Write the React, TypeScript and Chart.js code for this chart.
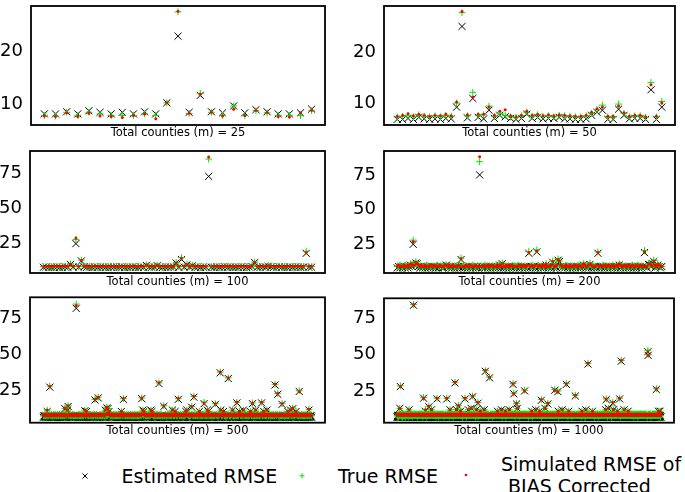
import React, { useEffect, useRef } from "react";
import { Chart, registerables } from "chart.js";

Chart.register(...registerables);

// ---------- DATA ----------
const yTicksSmall = [10, 20];
const yTicksLarge = [25, 50, 75];

const est25 = [8.2, 8.2, 8.6, 8.2, 8.8, 8.5, 8.2, 8.5, 8.2, 8.6, 8.2, 10.3, 22.9, 8.5, 11.7, 8.6, 8.4, 9.7, 8.4, 9.0, 8.6, 8.2, 8.2, 8.4, 9.1];
const true25 = [7.9, 7.8, 8.5, 7.9, 8.5, 8.2, 7.9, 7.9, 7.9, 8.2, 7.9, 10.3, 27.5, 8.3, 12.1, 8.5, 7.9, 9.7, 7.9, 8.8, 8.4, 7.9, 7.9, 7.9, 8.8];
const sim25 = [7.8, 7.7, 8.4, 7.7, 8.3, 7.8, 7.7, 7.5, 7.9, 8.2, 7.3, 10.3, 27.6, 8.3, 11.9, 8.5, 7.8, 9.1, 7.9, 8.9, 8.5, 7.7, 7.6, 8.4, 8.9];

const est50 = [6.8, 6.8, 7.0, 6.8, 7.2, 6.9, 6.8, 6.9, 6.8, 7.0, 6.9, 9.2, 25.0, 7.1, 10.9, 7.2, 6.9, 8.6, 7.0, 7.6, 7.3, 7.0, 6.8, 7.0, 7.8, 7.0, 7.2, 6.9, 7.0, 7.0, 7.2, 6.9, 6.9, 6.8, 6.8, 6.9, 7.6, 8.2, 8.6, 6.8, 6.8, 8.8, 7.6, 6.9, 7.0, 7.0, 6.8, 12.6, 6.8, 9.2];
const true50 = [7.3, 7.4, 7.6, 7.3, 7.7, 7.4, 7.3, 7.5, 7.3, 7.6, 7.4, 10.0, 27.7, 7.5, 12.1, 7.6, 7.7, 9.4, 7.4, 8.0, 7.6, 7.3, 7.2, 7.5, 8.2, 7.4, 7.7, 7.4, 7.5, 7.3, 7.6, 7.5, 7.4, 7.3, 7.3, 7.5, 8.0, 8.7, 9.6, 7.3, 7.2, 9.8, 8.0, 7.3, 7.5, 7.5, 7.2, 14.0, 7.3, 10.3];
const sim50 = [7.4, 7.6, 7.9, 7.5, 7.8, 7.6, 7.4, 7.6, 7.5, 7.8, 7.5, 10.2, 27.9, 7.7, 11.2, 7.8, 7.8, 9.2, 7.6, 8.4, 8.7, 7.5, 7.3, 7.6, 8.4, 7.6, 7.8, 7.5, 7.7, 7.5, 7.7, 7.6, 7.5, 7.4, 7.4, 7.6, 8.2, 8.9, 9.2, 7.4, 7.4, 9.4, 8.1, 7.4, 7.6, 7.6, 7.3, 13.6, 7.4, 10.0];

const est100 = [
  7.4, 7.6, 7.3, 7.5, 7.4, 7.6, 7.3, 7.5, 7.7, 7.4, 9.5, 7.6, 24.5, 7.5, 12.0, 7.8, 7.4, 7.6, 7.3, 7.5,
  7.4, 7.6, 7.5, 7.3, 7.6, 7.4, 7.5, 7.7, 7.4, 7.6, 7.3, 7.5, 7.4, 7.6, 7.5, 7.3, 7.6, 7.4, 8.8, 7.5,
  7.4, 7.6, 8.6, 7.5, 7.3, 7.6, 7.4, 7.5, 7.7, 10.5, 7.4, 13.0, 7.5, 9.2, 7.6, 8.5, 7.4, 7.6, 7.3, 7.5,
  7.4, 73.0, 7.5, 7.3, 7.6, 7.4, 7.5, 7.7, 7.4, 7.6, 7.3, 7.5, 7.4, 7.6, 7.5, 7.3, 7.6, 8.0, 10.8, 7.5,
  7.4, 7.6, 7.5, 8.2, 7.6, 7.4, 7.5, 7.7, 7.4, 7.6, 7.3, 7.5, 7.4, 7.6, 7.5, 7.3, 7.6, 17.5, 7.4, 7.5,
];
const true100 = [
  7.8, 8.0, 7.7, 7.9, 7.8, 8.0, 7.7, 7.9, 8.1, 7.8, 9.8, 8.0, 27.5, 7.9, 12.6, 8.2, 7.8, 8.0, 7.7, 7.9,
  7.8, 8.0, 7.9, 7.7, 8.0, 7.8, 7.9, 8.1, 7.8, 8.0, 7.7, 7.9, 7.8, 8.0, 7.9, 7.7, 8.0, 7.8, 9.2, 7.9,
  7.8, 8.0, 9.0, 7.9, 7.7, 8.0, 7.8, 7.9, 8.1, 10.8, 7.8, 14.5, 7.9, 9.6, 8.0, 8.9, 7.8, 8.0, 7.7, 7.9,
  7.8, 85.5, 7.9, 7.7, 8.0, 7.8, 7.9, 8.1, 7.8, 8.0, 7.7, 7.9, 7.8, 8.0, 7.9, 7.7, 8.0, 8.4, 11.2, 7.9,
  7.8, 8.0, 7.9, 8.6, 8.0, 7.8, 7.9, 8.1, 7.8, 8.0, 7.7, 7.9, 7.8, 8.0, 7.9, 7.7, 8.0, 19.0, 7.8, 7.9,
];
const sim100 = [
  8.0, 7.8, 8.1, 7.9, 8.2, 7.8, 8.0, 8.1, 7.9, 8.0, 9.6, 7.9, 28.5, 8.1, 12.3, 8.0, 8.2, 7.9, 8.0, 8.1,
  7.9, 8.0, 8.2, 7.8, 8.1, 8.0, 7.9, 8.2, 8.0, 7.8, 8.1, 8.0, 7.9, 8.2, 8.0, 7.8, 8.1, 7.9, 9.0, 8.0,
  8.2, 7.9, 8.8, 8.0, 8.1, 7.8, 8.0, 8.2, 7.9, 10.6, 8.0, 13.8, 8.1, 9.4, 7.9, 8.7, 8.0, 8.2, 7.8, 8.1,
  8.0, 87.0, 7.9, 8.1, 8.0, 7.8, 8.2, 8.0, 7.9, 8.1, 8.0, 7.8, 8.1, 7.9, 8.2, 8.0, 7.8, 8.3, 11.0, 8.0,
  8.1, 7.9, 8.0, 8.4, 8.1, 7.9, 8.0, 8.2, 7.8, 8.0, 8.1, 7.9, 8.0, 8.2, 7.9, 8.0, 8.1, 18.0, 7.9, 8.0,
];

// Dense panels: each character is one county's value (base-36 digit: 7 = 7, a = 10, b = 11 ...);
// larger values are listed as [index, estimated, true, simulated].
const est200Rows = [
  "89898 98989 a98a9 b9898 98989 89898 98998 89a98 98989 89898",
  "98989 89898 98a98 98989 89898 98a89 89898 98989 89898 98989",
  "89898 98989 89a98 98989 89898 98989 89898 98989 a9898 98989",
  "89898 98989 89898 98a89 89898 98989 89898 98989 a9b98 9a989",
];
const true200Rows = [
  "99a99 9a999 ba9a9 ba999 99a99 99999 a9999 9aa99 99999 99a99",
  "a9999 99a99 99a99 9a999 99999 9aa99 99999 99a99 9a999 99999",
  "99a99 9a999 99b99 99999 a9999 99a99 99999 9a999 ba999 99a99",
  "99999 a9999 99a99 99ba9 99999 99a99 9a999 99999 ba9b9 9b999",
];
const sim200Rows = [
  "9a999 a99a9 ba9a9 ba9a9 9a999 a99a9 99a99 9aa9a 99a99 9a999",
  "99a99 a999a 99b99 a99a9 9a999 a9a99 99a9a 9a999 99a99 a99a9",
  "9a99a 99a99 a9b99 9a999 a99a9 99a99 a999a 99a99 ba99a 9a999",
  "a99a9 9a99a 99a99 a9ba9 9a99a 99a99 a99a9 9a999 ba9ba 9ba99",
];
const outliers200 = [
  [12, 25, 28, 27], [14, 11.5, 12.5, 12], [48, 14, 15, 14.5], [62, 75, 84.5, 88], [79, 11, 11.5, 11],
  [99, 18.5, 19.8, 19], [105, 19.5, 21, 20], [117, 12, 13, 12.5], [121, 13.5, 14.5, 14], [122, 12.5, 13, 13],
  [145, 10.5, 11.5, 11], [151, 18.5, 19.5, 19], [186, 19, 20.5, 19.5], [189, 10.5, 11, 11], [193, 12.5, 13.5, 13],
];

const est500Rows = [
  "67676 76a67 67676 76767 67676 76767 67676 76767 c6767 b6767",
  "76767 67676 76767 67676 76767 67676 a7676 76767 67676 76767",
  "67676 76767 67676 b6767 c7a76 76767 67676 76767 67676 a6767",
  "76767 67676 76767 67676 76767 67676 76767 b6a76 76767 67676",
  "b7a76 76767 67676 76767 67676 76767 67676 76767 b6767 a7676",
  "67676 76767 67676 a7b76 76767 67676 76767 67676 a6767 76767",
  "67676 b6a67 67676 76767 67676 76767 b6767 a7676 67676 76767",
  "76b67 67676 76767 a7676 76b67 67676 76767 a7676 67676 b6767",
  "76767 67676 a7676 6b767 67676 76767 67676 76767 67676 76767",
  "67676 a6767 b7676 76767 a7676 67676 76767 67676 76767 67676",
];
const true500Rows = [
  "77787 87b77 78777 87778 77877 78777 87787 77877 c8787 b7787",
  "87778 77877 78777 87787 77877 78778 a7877 78787 77877 87778",
  "77877 87778 77877 b7787 c8a87 78777 87787 77877 87778 a7877",
  "78777 87787 77877 87778 77877 78787 87778 b7a87 78777 87787",
  "b8a87 78777 87787 77877 87778 77877 78787 87778 b7787 a8777",
  "77877 87778 77877 a8b87 78777 87787 77877 87778 a7877 78787",
  "77877 b7a78 77877 87778 77877 78787 b7787 a8777 77877 87778",
  "87b77 77877 87778 a8777 87b78 77877 87787 a8777 77877 b7787",
  "87778 77877 a8777 7b877 78777 87787 77877 87778 77877 78787",
  "77877 a7787 b8777 87778 a8777 78777 87787 77877 87778 77877",
];
const sim500Rows = [
  "78878 87b78 87878 78787 87878 78787 87878 78787 c8787 b8878",
  "87878 78787 87878 78787 87878 78787 a8787 87878 78787 87878",
  "78787 87878 78787 b8878 c8a87 87878 78787 87878 78787 a8878",
  "87878 78787 87878 78787 87878 78787 87878 b8a87 87878 78787",
  "b8a87 87878 78787 87878 78787 87878 78787 87878 b8787 a8878",
  "78787 87878 78787 a8b87 87878 78787 87878 78787 a8878 87878",
  "78787 b8a87 78787 87878 78787 87878 b8787 a8878 78787 87878",
  "87b78 78787 87878 a8787 87b87 78787 87878 a8787 78787 b8878",
  "87878 78787 a8787 8b878 78787 87878 78787 87878 78787 87878",
  "78787 a8787 b8878 87878 a8787 78787 87878 78787 87878 78787",
];
const outliers500 = [
  [12, 27, 27.8, 27.5], [46, 13.5, 14, 14], [61, 82, 85, 84], [77, 10.5, 11, 11], [96, 18, 18.5, 18.5],
  [102, 19.5, 20, 20], [118, 12.5, 13, 13], [149, 18.5, 19, 19], [183, 19, 19.5, 19.5], [215, 29.5, 30, 30],
  [224, 13.5, 14, 14], [251, 18.5, 19, 19], [276, 13, 13.5, 13.5], [280, 20, 20.5, 20.5], [299, 15.5, 16.5, 16],
  [320, 15, 15.5, 15.5], [329, 37, 37.5, 37.5], [344, 33, 33.5, 33.5], [360, 16, 16.5, 16.5], [389, 15.5, 16, 16],
  [406, 16, 16.5, 16.5], [431, 28.5, 29, 29], [436, 22, 22.5, 22.5], [444, 15, 15.5, 15.5], [464, 12, 12.5, 12.5],
  [476, 24, 24.5, 24], [494, 11, 11.5, 11.5],
];

const est1000Rows = [
  "78778 87787 d7787 78877 87787 78778 87877 78787 77887 c7877",
  "87787 78877 87778 78787 87787 78877 77878 87787 78778 87877",
  "78787 87b77 78877 87787 77878 87787 c8778 78787 87787 78877",
  "87787 78877 87778 78787 87787 78877 77878 87787 78778 87877",
  "c8787 87787 78877 87787 77878 c7787 87778 78787 b7787 78877",
  "87787 78778 87877 78787 c7887 87787 d8778 78787 87787 78877",
  "c7787 78877 87787 b7878 87787 78778 c7877 78787 87787 78877",
  "87787 78778 87877 78787 77887 87787 b8778 78787 87787 c8877",
  "78787 87787 b8877 87787 77878 c7787 87778 78787 87787 78877",
  "87787 d8778 87877 78787 77887 87787 78778 78787 87787 78877",
  "78787 87787 b8877 87787 77878 c7787 87778 78787 b7787 78877",
  "87787 78778 d7877 78787 77887 87787 78778 78787 87787 78877",
  "78787 87787 b8877 87787 77878 c7787 87778 78787 87787 78877",
  "b7787 78778 87877 78787 77887 87787 78778 78787 87787 78877",
  "b8787 87787 78877 c7787 77878 87787 87778 78787 b7787 78877",
  "87787 78778 87877 78787 77887 87787 78778 78787 c7787 78877",
  "d8787 87787 78877 87787 c7878 87787 87778 b8787 87787 78877",
  "87787 78778 c7877 78787 77887 b7787 78778 78787 87787 78877",
  "78787 87787 78877 87787 77878 87787 87778 78787 87787 78877",
  "87787 78778 87877 78787 77887 87787 78778 78787 b7787 7b877",
];
const true1000Rows = [
  "88789 78898 d8898 89788 78898 87889 98788 89898 88798 c8988",
  "98898 89788 98889 89898 98898 89788 88989 98898 89889 98788",
  "89898 98c88 89788 98898 88989 98898 c9889 89898 98898 89788",
  "98898 89788 98889 89898 98898 89788 88989 98898 89889 98788",
  "c9898 98898 89788 98898 88989 c8898 98889 89898 b8898 89788",
  "98898 89889 98788 89898 c8998 98898 d9889 89898 98898 89788",
  "c8898 89788 98898 b8989 98898 89889 c8988 89898 98898 89788",
  "98898 89889 98788 89898 88998 98898 b9889 89898 98898 c9788",
  "89898 98898 b9788 98898 88989 c8898 98889 89898 98898 89788",
  "98898 d9889 98788 89898 88998 98898 89889 89898 98898 89788",
  "89898 98898 b9788 98898 88989 c8898 98889 89898 b8898 89788",
  "98898 89889 d8988 89898 88998 98898 89889 89898 98898 89788",
  "89898 98898 b9788 98898 88989 c8898 98889 89898 98898 89788",
  "b8898 89889 98788 89898 88998 98898 89889 89898 98898 89788",
  "b9898 98898 89788 c8898 88989 98898 98889 89898 b8898 89788",
  "98898 89889 98788 89898 88998 98898 89889 89898 c8898 89788",
  "d9898 98898 89788 98898 c8989 98898 98889 b9898 98898 89788",
  "98898 89889 c8988 89898 88998 b8898 89889 89898 98898 89788",
  "89898 98898 89788 98898 88989 98898 98889 89898 98898 89788",
  "98898 89889 98788 89898 88998 98898 89889 89898 b8898 8b788",
];
const sim1000Rows = [
  "89898 98989 d9898 89898 98989 89898 98989 89898 98989 c9898",
  "98989 89898 98989 88989 98989 89898 98998 89898 98989 89898",
  "89898 98c89 89898 98989 89898 98989 c9898 98989 89898 98989",
  "98989 89898 98989 89898 98989 89898 98989 89898 98989 89898",
  "c9898 98989 89898 98989 89898 c8989 98989 89898 b9898 98989",
  "98989 89898 98989 89898 c8989 89898 d9898 98989 89898 98989",
  "c9898 98989 89898 b9898 98989 89898 c9898 98989 89898 98989",
  "98989 89898 98989 89898 98989 89898 b8989 89898 98989 c9898",
  "89898 98989 b9898 98989 89898 c8989 98989 89898 98989 89898",
  "98989 d8989 98989 89898 98989 89898 98989 89898 98989 89898",
  "89898 98989 b9898 98989 89898 c8989 98989 89898 b9898 98989",
  "98989 89898 d8989 89898 98989 89898 98989 89898 98989 89898",
  "89898 98989 b9898 98989 89898 c8989 98989 89898 98989 89898",
  "b8989 89898 98989 89898 98989 89898 98989 89898 98989 89898",
  "b9898 98989 89898 c8989 89898 98989 98989 89898 b9898 98989",
  "98989 89898 98989 89898 98989 89898 98989 89898 c8989 89898",
  "d9898 98989 89898 98989 c9898 98989 98989 b9898 98989 89898",
  "98989 89898 c8989 89898 98989 b9898 98989 89898 98989 89898",
  "89898 98989 89898 98989 89898 98989 98989 89898 98989 89898",
  "98989 89898 98989 89898 98989 89898 98989 89898 b8989 9b898",
];
const outliers1000 = [
  [12, 28, 28.5, 28], [62, 84, 84.5, 84.5], [100, 20, 20.5, 20], [120, 14, 14.5, 14.5], [151, 19.5, 20, 20],
  [188, 19.5, 20, 20], [219, 30.5, 31, 31], [232, 14.5, 15, 15], [257, 19.5, 20, 20], [286, 21, 21.5, 21.5],
  [306, 16.5, 17, 17], [334, 38.5, 39, 39], [350, 34, 34.5, 34.5], [439, 29.5, 30, 30], [442, 23, 23.5, 23],
  [452, 16, 16.5, 16.5], [483, 25, 25.5, 25], [546, 18.5, 19, 19], [571, 16, 16.5, 16.5], [597, 25.5, 26, 25.5],
  [609, 24.5, 25, 24.5], [641, 29.5, 30, 30], [675, 21.5, 22, 22], [723, 43.5, 44, 44], [792, 19, 19.5, 19.5],
  [817, 16.5, 17, 17], [843, 19.5, 20, 20], [849, 45.5, 46, 46], [950, 52, 53, 52], [951, 49.5, 50, 49.5],
  [982, 26, 26.5, 26.5],
];

const legendLabels = ["Estimated RMSE", "True RMSE", "Simulated RMSE of", "BIAS Corrected"];

// ---------- helpers ----------
const parseRows = (rows: string[]) =>
  rows.join("").replace(/\s+/g, "").split("").map((c) => parseInt(c, 36));
const withOutliers = (base: number[], list: number[][], col: number) => {
  const a = base.slice();
  list.forEach((r) => {
    a[r[0]] = r[col];
  });
  return a;
};

const est200 = withOutliers(parseRows(est200Rows), outliers200, 1);
const true200 = withOutliers(parseRows(true200Rows), outliers200, 2);
const sim200 = withOutliers(parseRows(sim200Rows), outliers200, 3);
const est500 = withOutliers(parseRows(est500Rows), outliers500, 1);
const true500 = withOutliers(parseRows(true500Rows), outliers500, 2);
const sim500 = withOutliers(parseRows(sim500Rows), outliers500, 3);
const est1000 = withOutliers(parseRows(est1000Rows), outliers1000, 1);
const true1000 = withOutliers(parseRows(true1000Rows), outliers1000, 2);
const sim1000 = withOutliers(parseRows(sim1000Rows), outliers1000, 3);

// ---------- layout ----------
const FONT = "'DejaVu Sans', 'Liberation Sans', sans-serif";
const GREEN = "#00e600";
const RED = "#ff0000";

type PanelCfg = {
  m: number;
  est: number[];
  tru: number[];
  sim: number[];
  yMin: number;
  yMax: number;
  ticks: number[];
  left: number;
  top: number;
  w: number;
  h: number;
  yW: number;
  pt: number;
  pr: number;
  xH: number;
  pb: number;
};

const panels: PanelCfg[] = [
  { m: 25, est: est25, tru: true25, sim: sim25, yMin: 6.1, yMax: 28.6, ticks: yTicksSmall, left: 0, top: 0, w: 340, h: 145, yW: 31, pt: 1, pr: 15, xH: 20, pb: 4.8 },
  { m: 50, est: est50, tru: true50, sim: sim50, yMin: 5.7, yMax: 29.0, ticks: yTicksSmall, left: 340, top: 0, w: 345, h: 145, yW: 44, pt: 1, pr: 10, xH: 20, pb: 4.8 },
  { m: 100, est: est100, tru: true100, sim: sim100, yMin: 3.3, yMax: 91.3, ticks: yTicksLarge, left: 0, top: 145, w: 340, h: 145, yW: 30, pt: 4, pr: 15, xH: 17, pb: 1.4 },
  { m: 200, est: est200, tru: true200, sim: sim200, yMin: 4.3, yMax: 92.2, ticks: yTicksLarge, left: 340, top: 145, w: 345, h: 145, yW: 44, pt: 4, pr: 10, xH: 17, pb: 1.4 },
  { m: 500, est: est500, tru: true500, sim: sim500, yMin: 2.2, yMax: 89.7, ticks: yTicksLarge, left: 0, top: 290, w: 340, h: 150, yW: 30, pt: 7.3, pr: 15, xH: 17.3, pb: 2.4 },
  { m: 1000, est: est1000, tru: true1000, sim: sim1000, yMin: 3.1, yMax: 88.8, ticks: yTicksLarge, left: 340, top: 290, w: 345, h: 150, yW: 44, pt: 8.3, pr: 11, xH: 17.3, pb: 2.4 },
];

const framePlugin = {
  id: "frame",
  afterDatasetsDraw(chart: any) {
    const { ctx, chartArea } = chart;
    ctx.save();
    ctx.strokeStyle = "#000";
    ctx.lineWidth = 1.8;
    ctx.strokeRect(chartArea.left, chartArea.top, chartArea.right - chartArea.left, chartArea.bottom - chartArea.top);
    ctx.restore();
  },
};

const toPts = (arr: number[]) =>
  arr.map((y, i) => ({ x: i, y })).filter((p) => Number.isFinite(p.y));

function Panel({ cfg }: { cfg: PanelCfg }) {
  const ref = useRef<HTMLCanvasElement>(null);
  useEffect(() => {
    const n = cfg.est.length;
    const span = n - 1;
    const chart = new Chart(ref.current as HTMLCanvasElement, {
      type: "scatter",
      data: {
        datasets: [
          {
            label: legendLabels[0],
            data: toPts(cfg.est),
            pointStyle: "crossRot",
            pointRadius: 5,
            pointBorderColor: "#000",
            pointBackgroundColor: "rgba(0,0,0,0)",
            pointBorderWidth: 1,
            order: 3,
          },
          {
            label: legendLabels[1],
            data: toPts(cfg.tru),
            pointStyle: "cross",
            pointRadius: 3.4,
            pointBorderColor: GREEN,
            pointBackgroundColor: GREEN,
            pointBorderWidth: 1,
            order: 2,
          },
          {
            label: legendLabels[2] + " " + legendLabels[3],
            data: toPts(cfg.sim),
            pointStyle: "circle",
            pointRadius: 1.5,
            pointBorderColor: RED,
            pointBackgroundColor: RED,
            pointBorderWidth: 0,
            order: 1,
          },
        ],
      } as any,
      options: {
        animation: false,
        responsive: false,
        events: [],
        layout: { padding: { top: cfg.pt, right: cfg.pr, left: 0, bottom: 0 } },
        plugins: { legend: { display: false }, tooltip: { enabled: false } },
        scales: {
          x: {
            type: "linear",
            min: -0.05 * span,
            max: span * 1.05,
            grid: { display: false },
            border: { display: false },
            ticks: { display: false },
            title: {
              display: true,
              text: `Total counties (m) = ${cfg.m}`,
              color: "#000",
              font: { family: FONT, size: 11.5 },
              padding: { top: 0, bottom: cfg.pb },
            },
            afterFit: (s: any) => {
              s.height = cfg.xH;
              s.paddingLeft = 0;
              s.paddingRight = 0;
            },
          },
          y: {
            type: "linear",
            min: cfg.yMin,
            max: cfg.yMax,
            grid: { display: false, drawTicks: false },
            border: { display: false },
            ticks: {
              color: "#000",
              font: { family: FONT, size: 18 },
              padding: 8,
            },
            afterBuildTicks: (s: any) => {
              s.ticks = cfg.ticks.map((v) => ({ value: v }));
            },
            afterFit: (s: any) => {
              s.width = cfg.yW;
              s.paddingTop = 0;
              s.paddingBottom = 0;
            },
          },
        },
      } as any,
      plugins: [framePlugin],
    });
    return () => chart.destroy();
  }, [cfg]);
  return (
    <canvas
      ref={ref}
      width={cfg.w}
      height={cfg.h}
      style={{ position: "absolute", left: cfg.left, top: cfg.top, width: cfg.w, height: cfg.h }}
    />
  );
}

const textStyle = (left: number, centerY: number): React.CSSProperties => ({
  position: "absolute",
  left,
  top: centerY - 12,
  height: 24,
  lineHeight: "24px",
  fontFamily: FONT,
  fontSize: 19,
  color: "#000",
  whiteSpace: "nowrap",
});

function Legend() {
  return (
    <>
      <svg style={{ position: "absolute", left: 0, top: 440, overflow: "visible" }} width={685} height={52}>
        <g stroke="#000" strokeWidth={1}>
          <line x1={82.5} y1={33.5} x2={87.5} y2={38.5} />
          <line x1={87.5} y1={33.5} x2={82.5} y2={38.5} />
        </g>
        <g stroke={GREEN} strokeWidth={1}>
          <line x1={299.5} y1={35.8} x2={304.5} y2={35.8} />
          <line x1={302} y1={33.3} x2={302} y2={38.3} />
        </g>
        <circle cx={466} cy={35} r={1.3} fill={RED} />
      </svg>
      <div style={textStyle(121.5, 476)}>{legendLabels[0]}</div>
      <div style={textStyle(338, 476)}>{legendLabels[1]}</div>
      <div style={textStyle(501, 463.5)}>{legendLabels[2]}</div>
      <div style={textStyle(508, 485.5)}>{legendLabels[3]}</div>
    </>
  );
}

export default function App() {
  return (
    <div
      style={{
        position: "absolute",
        left: 0,
        top: 0,
        width: 685,
        height: 492,
        background: "#fff",
        overflow: "hidden",
      }}
    >
      {panels.map((p) => (
        <Panel key={p.m} cfg={p} />
      ))}
      <Legend />
    </div>
  );
}
